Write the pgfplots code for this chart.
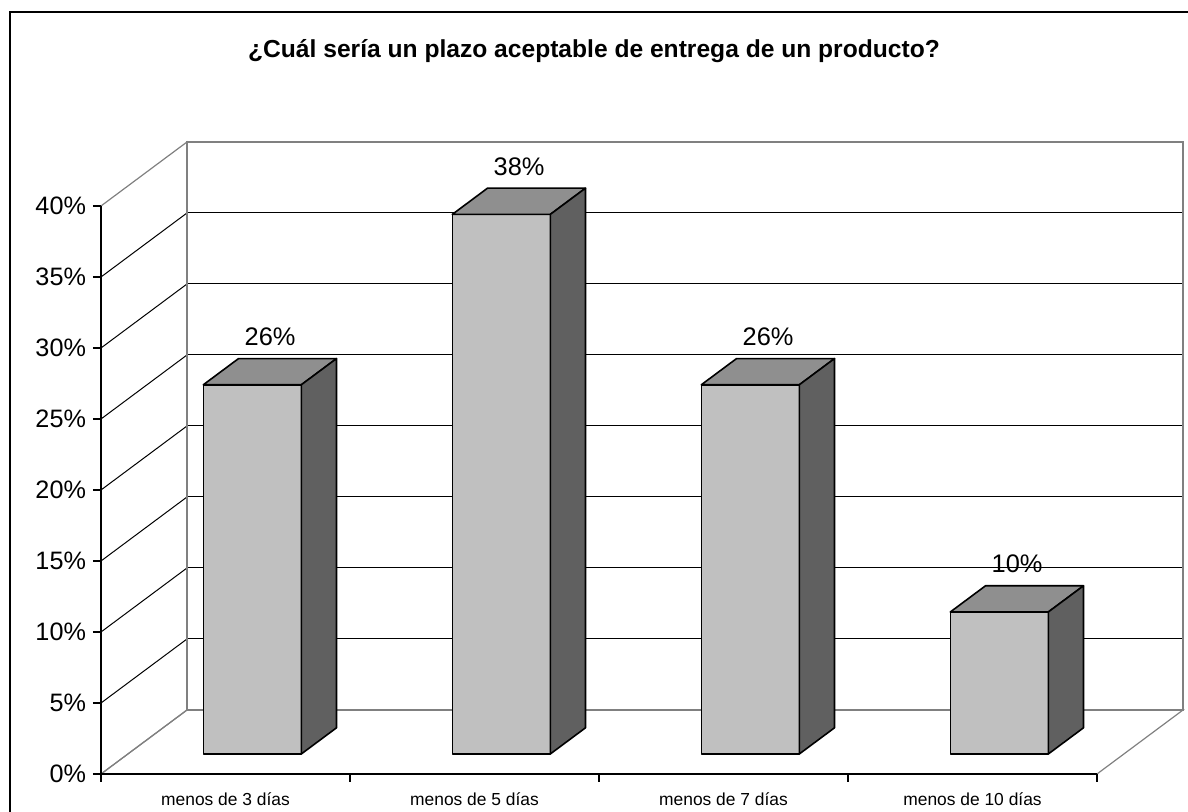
\documentclass[border=0pt]{standalone}
\usepackage{fontspec}
\setmainfont{Liberation Sans}
\usepackage{pgfplots}
\pgfplotsset{compat=1.18}
\definecolor{barfront}{HTML}{C0C0C0}
\definecolor{bartop}{HTML}{8F8F8F}
\definecolor{barside}{HTML}{606060}
\definecolor{wallgray}{HTML}{808080}
\pgfdeclareplotmark{blank}{}

% scale: 1 px of the original = 0.5pt
% category = 124.5pt, 1% = 7.1pt, depth vector = (43pt,32pt)
\pgfplotsset{
  wall/.style={clip=false, axis line style={wallgray,line width=0.6pt},
    xtick=\empty, ytick=\empty, major tick length=0pt,
    grid style={black,line width=0.5pt}},
}

\begin{document}
\begin{tikzpicture}
\useasboundingbox (-50.5pt,-19pt) rectangle (543.5pt,387pt);
\draw[line width=1pt] (-45.5pt,-30pt) -- (-45.5pt,381.2pt) -- (560pt,381.2pt);

% left wall
\begin{axis}[wall, at={(0pt,0pt)}, anchor=origin,
  x={(43pt,32pt)}, y={(0pt,7.1pt)},
  xmin=0, xmax=1, ymin=0, ymax=40,
  ytick={5,10,...,35}, yticklabel=\empty, ymajorgrids]
\end{axis}

% back wall
\begin{axis}[wall, at={(43pt,32pt)}, anchor=origin,
  x={(124.5pt,0pt)}, y={(0pt,7.1pt)},
  xmin=0, xmax=4, ymin=0, ymax=40,
  ytick={5,10,...,35}, yticklabel=\empty, ymajorgrids]
\end{axis}

% floor
\begin{axis}[wall, at={(0pt,0pt)}, anchor=origin,
  x={(124.5pt,0pt)}, y={(43pt,32pt)},
  xmin=0, xmax=4, ymin=0, ymax=1]
\end{axis}

% front axes, bars and labels
\begin{axis}[at={(0pt,0pt)}, anchor=origin,
  x={(124.5pt,0pt)}, y={(0pt,7.1pt)},
  xmin=0, xmax=4, ymin=0, ymax=40,
  clip=false,
  axis x line*=bottom, axis y line*=left,
  axis line style={black,line width=0.6pt},
  tick style={black,line width=0.6pt},
  tick align=outside, major tick length=4pt,
  ytick={0,5,...,40},
  yticklabel={\pgfmathprintnumber{\tick}\%},
  /pgf/number format/assume math mode=true,
  yticklabel style={font=\fontsize{12.6}{14}\selectfont},
  xtick={0,1,2,3,4}, xticklabels={},
  extra x ticks={0.5,1.5,2.5,3.5},
  extra x tick labels={menos de 3 días,menos de 5 días,menos de 7 días,menos de 10 días},
  extra x tick style={major tick length=0pt,
    xticklabel style={font=\fontsize{8.7}{10}\selectfont, anchor=base, yshift=-16pt}},
  title={¿Cuál sería un plazo aceptable de entrega de un producto?},
  title style={font=\bfseries\fontsize{12.3}{14}\selectfont,
    at={(0.5,1)}, anchor=center, yshift=71.5pt, xshift=-2.5pt},
  visualization depends on={rawy \as \val},
]
% each point draws its box (front, top, side) and its value label
\addplot[scatter, only marks, mark=blank,
  scatter/@pre marker code/.code={%
    \pgfmathsetmacro\yb{10-\val*7.1}%
    \pgfmathsetmacro\ybb{23.1-\val*7.1}%
    \filldraw[fill=barfront,draw=black,line width=0.8pt,line join=round]
      (-11.1pt,\yb pt) rectangle (37.9pt,10pt);
    \filldraw[fill=bartop,draw=black,line width=0.8pt,line join=round]
      (-11.1pt,10pt) -- (37.9pt,10pt) -- (55.5pt,23.1pt) -- (6.5pt,23.1pt) -- cycle;
    \filldraw[fill=barside,draw=black,line width=0.8pt,line join=round]
      (37.9pt,\yb pt) -- (37.9pt,10pt) -- (55.5pt,23.1pt) -- (55.5pt,\ybb pt) -- cycle;
    \node[font=\fontsize{12.7}{14}\selectfont, text=black, anchor=center]
      at (22.3pt,34pt) {\pgfmathprintnumber[fixed,precision=0,assume math mode=true]{\val}\%};
  },
  scatter/@post marker code/.code={},
] coordinates {(0.5,26) (1.5,38) (2.5,26) (3.5,10)};
\end{axis}
\end{tikzpicture}
\end{document}
